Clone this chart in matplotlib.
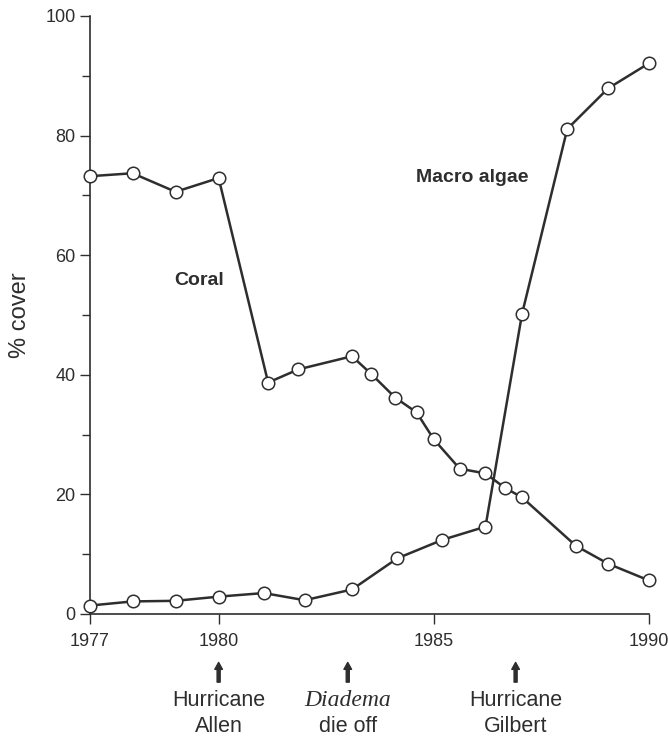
import matplotlib.pyplot as plt
from matplotlib.ticker import MultipleLocator

# values (year, % cover)
coral_years = [1977, 1978, 1979, 1980, 1981.15, 1981.85, 1983.1, 1983.55, 1984.1,
               1984.6, 1985, 1985.6, 1986.2, 1986.65, 1987.05, 1988.3, 1989.05, 1990]
coral_cover = [73.2, 73.7, 70.6, 72.9, 38.7, 40.9, 43.1, 40.1, 36.2,
               33.7, 29.2, 24.3, 23.5, 21.1, 19.5, 11.4, 8.4, 5.6]

algae_years = [1977, 1978, 1979, 1980, 1981.05, 1982, 1983.1, 1984.15, 1985.2,
               1986.2, 1987.05, 1988.1, 1989.05, 1990]
algae_cover = [1.4, 2.1, 2.2, 2.9, 3.5, 2.3, 4.1, 9.3, 12.4,
               14.6, 50.2, 81.1, 87.9, 92.1]

year_ticks = [1977, 1980, 1985, 1990]
event_first = ["Hurricane", "Diadema", "Hurricane"]
event_second = ["Allen", "die off", "Gilbert"]
event_years = [1980, 1983.0, 1986.9]

INK = "#2e2e2e"
plt.rcParams["font.family"] = ["Liberation Sans", "DejaVu Sans"]

fig = plt.figure(figsize=(6.68, 7.4), dpi=100)
ax = fig.add_axes([0.134, 0.1703, 0.8376, 0.8081])

for xs, ys in [(coral_years, coral_cover), (algae_years, algae_cover)]:
    ax.plot(xs, ys, color=INK, lw=1.8, marker="o", ms=9, mfc="white",
            mec=INK, mew=1.1, clip_on=False, zorder=3)

ax.set_xlim(1977, 1990)
ax.set_ylim(0, 100)
ax.set_xticks(year_ticks)
ax.yaxis.set_major_locator(MultipleLocator(20))
ax.yaxis.set_minor_locator(MultipleLocator(10))
ax.tick_params(axis="both", which="both", direction="out", color=INK,
               labelcolor=INK, labelsize=13, width=1)
ax.tick_params(axis="y", which="major", length=7, pad=3)
ax.tick_params(axis="y", which="minor", length=6)
ax.tick_params(axis="x", which="major", length=7, pad=7)
for side in ["top", "right"]:
    ax.spines[side].set_visible(False)
for side in ["left", "bottom"]:
    ax.spines[side].set_color(INK)
    ax.spines[side].set_linewidth(1.2)

ax.set_ylabel("% cover", fontsize=17, color=INK, labelpad=10)

ax.text(1979.55, 55.7, "Coral", fontsize=14, fontweight="bold", color=INK,
        ha="center", va="center")
ax.text(1985.9, 73.0, "Macro algae", fontsize=14, fontweight="bold", color=INK,
        ha="center", va="center")

# event arrows and labels under the axis
trans = ax.get_xaxis_transform()
for i, yr in enumerate(event_years):
    ax.annotate("", xy=(yr, -0.081), xytext=(yr, -0.114), xycoords=trans,
                textcoords=trans,
                arrowprops=dict(arrowstyle="simple,head_width=0.55,head_length=0.5,tail_width=0.22",
                                color=INK, shrinkA=0, shrinkB=0))
    if event_first[i] == "Diadema":
        ax.text(yr, -0.145, event_first[i], transform=trans, ha="center",
                va="center", fontsize=17, color=INK, family="Liberation Serif",
                style="italic")
    else:
        ax.text(yr, -0.145, event_first[i], transform=trans, ha="center",
                va="center", fontsize=15.5, color=INK)
    ax.text(yr, -0.188, event_second[i], transform=trans, ha="center",
            va="center", fontsize=15.5, color=INK)

fig.savefig("out.png", dpi=100)
